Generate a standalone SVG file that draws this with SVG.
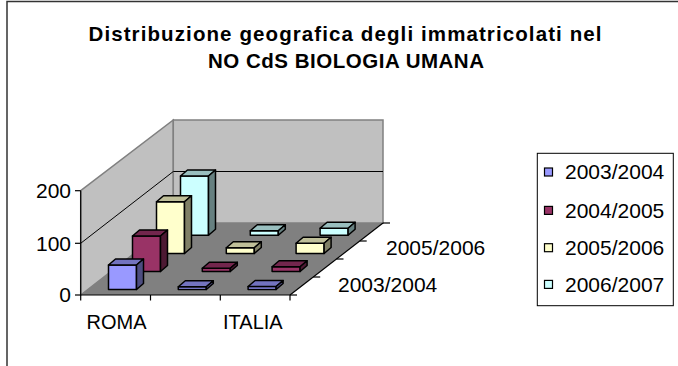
<svg xmlns="http://www.w3.org/2000/svg" width="678" height="366" viewBox="0 0 678 366">
<style>
text{font-family:"Liberation Sans",Arial,sans-serif;fill:#000}
.t{font-size:20.5px;font-weight:bold}
.l{font-size:21px}
.a{font-size:20px}
.wall{fill:#C0C0C0;stroke:#808080;stroke-width:1.5}
.floor{fill:#808080;stroke:none}
.ax{stroke:#000;stroke-width:1.2;fill:none}
.grid{stroke:#000;stroke-width:1;fill:none}
.bar{stroke:#000;stroke-width:1.5;stroke-linejoin:round}
.s1f{fill:#9999FF}.s1t{fill:#7373BF}.s1s{fill:#4D4D80}
.s2f{fill:#993366}.s2t{fill:#73264D}.s2s{fill:#4D1933}
.s3f{fill:#FFFFCC}.s3t{fill:#BFBF99}.s3s{fill:#808066}
.s4f{fill:#CCFFFF}.s4t{fill:#99BFBF}.s4s{fill:#668080}
</style>
<rect x="0" y="0" width="678" height="366" fill="#fff"/>
<rect x="7" y="1.5" width="700" height="400" fill="#fff" stroke="#333" stroke-width="1.5"/>
<g id="title">
<text class="t" x="345" y="41" text-anchor="middle" textLength="513" lengthAdjust="spacing">Distribuzione geografica degli immatricolati nel</text>
<text class="t" x="346" y="68" text-anchor="middle" textLength="276" lengthAdjust="spacing">NO CdS BIOLOGIA UMANA</text>
</g>
<g id="walls">
<polygon class="wall" points="80.7,190.7 173.3,120 173.3,223 80.7,295"/>
<polygon class="wall" points="173.3,120 383,120 383,223 173.3,223"/>
<polygon class="floor" points="80.7,295 290,295 383,223 173.3,223"/>
<polyline class="grid" points="80.7,243.3 173.3,171.5 383,171.5"/>
</g>
<g id="axes">
<line class="ax" x1="80.7" y1="190.7" x2="80.7" y2="295"/>
<line class="ax" x1="75" y1="190.7" x2="80.7" y2="190.7"/>
<line class="ax" x1="75" y1="243.3" x2="80.7" y2="243.3"/>
<line class="ax" x1="75" y1="295" x2="80.7" y2="295"/>
<line class="ax" x1="80.7" y1="295" x2="290" y2="295"/>
<line class="ax" x1="80.7" y1="295" x2="80.7" y2="300.5"/>
<line class="ax" x1="150.5" y1="295" x2="150.5" y2="300.5"/>
<line class="ax" x1="220.3" y1="295" x2="220.3" y2="300.5"/>
<line class="ax" x1="290" y1="295" x2="290" y2="300.5"/>
<line class="ax" x1="290" y1="295" x2="383" y2="223"/>
<line class="ax" x1="290" y1="295" x2="297" y2="295"/>
<line class="ax" x1="313.2" y1="277" x2="320.2" y2="277"/>
<line class="ax" x1="336.5" y1="259" x2="343.5" y2="259"/>
<line class="ax" x1="359.7" y1="241" x2="366.7" y2="241"/>
<line class="ax" x1="383" y1="223" x2="390" y2="223"/>
<text class="l" x="71" y="198" text-anchor="end">200</text>
<text class="l" x="71" y="250.5" text-anchor="end">100</text>
<text class="l" x="71" y="302" text-anchor="end">0</text>
<text class="a" x="86.5" y="328.5">ROMA</text>
<text class="a" x="223" y="328.5">ITALIA</text>
<text class="l" x="338" y="291.7">2003/2004</text>
<text class="l" x="386" y="255">2005/2006</text>
</g>
<g id="bars">
<g id="s4" class="bar">
<rect class="s4f" x="180.5" y="176" width="28" height="59.3"/><polygon class="s4t" points="180.5,176 187.5,170 215.5,170 208.5,176"/><polygon class="s4s" points="208.5,176 215.5,170 215.5,229.3 208.5,235.3"/>
<rect class="s4f" x="250.3" y="230.7" width="28" height="4.6"/><polygon class="s4t" points="250.3,230.7 257.3,224.7 285.3,224.7 278.3,230.7"/><polygon class="s4s" points="278.3,230.7 285.3,224.7 285.3,229.3 278.3,235.3"/>
<rect class="s4f" x="320.1" y="228.3" width="28" height="7"/><polygon class="s4t" points="320.1,228.3 327.1,222.3 355.1,222.3 348.1,228.3"/><polygon class="s4s" points="348.1,228.3 355.1,222.3 355.1,229.3 348.1,235.3"/>
</g>
<g id="s3" class="bar">
<rect class="s3f" x="156.5" y="201.7" width="28" height="51.8"/><polygon class="s3t" points="156.5,201.7 163.5,195.7 191.5,195.7 184.5,201.7"/><polygon class="s3s" points="184.5,201.7 191.5,195.7 191.5,247.5 184.5,253.5"/>
<rect class="s3f" x="226.3" y="247.7" width="28" height="5.8"/><polygon class="s3t" points="226.3,247.7 233.3,241.7 261.3,241.7 254.3,247.7"/><polygon class="s3s" points="254.3,247.7 261.3,241.7 261.3,247.5 254.3,253.5"/>
<rect class="s3f" x="296.1" y="243.3" width="28" height="10.2"/><polygon class="s3t" points="296.1,243.3 303.1,237.3 331.1,237.3 324.1,243.3"/><polygon class="s3s" points="324.1,243.3 331.1,237.3 331.1,247.5 324.1,253.5"/>
</g>
<g id="s2" class="bar">
<rect class="s2f" x="132.5" y="236" width="28" height="35.5"/><polygon class="s2t" points="132.5,236 139.5,230 167.5,230 160.5,236"/><polygon class="s2s" points="160.5,236 167.5,230 167.5,265.5 160.5,271.5"/>
<rect class="s2f" x="202.3" y="268.3" width="28" height="3.2"/><polygon class="s2t" points="202.3,268.3 209.3,262.3 237.3,262.3 230.3,268.3"/><polygon class="s2s" points="230.3,268.3 237.3,262.3 237.3,265.5 230.3,271.5"/>
<rect class="s2f" x="272.1" y="266.7" width="28" height="4.8"/><polygon class="s2t" points="272.1,266.7 279.1,260.7 307.1,260.7 300.1,266.7"/><polygon class="s2s" points="300.1,266.7 307.1,260.7 307.1,265.5 300.1,271.5"/>
</g>
<g id="s1" class="bar">
<rect class="s1f" x="108.5" y="265" width="28" height="24.5"/><polygon class="s1t" points="108.5,265 115.5,259 143.5,259 136.5,265"/><polygon class="s1s" points="136.5,265 143.5,259 143.5,283.5 136.5,289.5"/>
<rect class="s1f" x="178.3" y="286.7" width="28" height="2.8"/><polygon class="s1t" points="178.3,286.7 185.3,280.7 213.3,280.7 206.3,286.7"/><polygon class="s1s" points="206.3,286.7 213.3,280.7 213.3,283.5 206.3,289.5"/>
<rect class="s1f" x="248.1" y="286.5" width="28" height="3"/><polygon class="s1t" points="248.1,286.5 255.1,280.5 283.1,280.5 276.1,286.5"/><polygon class="s1s" points="276.1,286.5 283.1,280.5 283.1,283.5 276.1,289.5"/>
</g>
</g>
<g id="legend">
<rect x="537.3" y="153.3" width="136" height="152.4" fill="#fff" stroke="#000" stroke-width="1"/>
<rect class="s1f" x="544.5" y="168" width="8" height="8" stroke="#000" stroke-width="1.2"/>
<text class="l" x="565" y="179.3">2003/2004</text>
<rect class="s2f" x="544.5" y="206.4" width="8" height="8" stroke="#000" stroke-width="1.2"/>
<text class="l" x="565" y="217.7">2004/2005</text>
<rect class="s3f" x="544.5" y="243.7" width="8" height="8" stroke="#000" stroke-width="1.2"/>
<text class="l" x="565" y="255">2005/2006</text>
<rect class="s4f" x="544.5" y="280.4" width="8" height="8" stroke="#000" stroke-width="1.2"/>
<text class="l" x="565" y="291.7">2006/2007</text>
</g>
</svg>
